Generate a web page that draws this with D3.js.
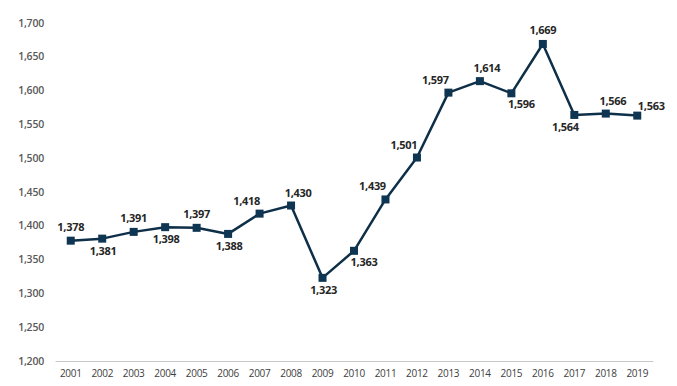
<!DOCTYPE html>
<html><head><meta charset="utf-8">
<script src="https://cdn.jsdelivr.net/npm/d3@7"></script>
<style>body{margin:0;background:#fff}svg{display:block}</style>
</head><body>
<svg id="c" width="677" height="386"></svg>
<script>
const years = ["2001","2002","2003","2004","2005","2006","2007","2008","2009","2010","2011","2012","2013","2014","2015","2016","2017","2018","2019"];
const values = [1378,1381,1391,1398,1397,1388,1418,1430,1323,1363,1439,1501,1597,1614,1596,1669,1564,1566,1563];
const labelPlacement = ["above","below","above","below","above","below","aboveLeft","aboveRight","below","belowRight","aboveLeft","aboveLeft","aboveLeft","aboveRight","belowRight","above","belowLeft","aboveRight","right"];
const yTicks = [1200,1250,1300,1350,1400,1450,1500,1550,1600,1650,1700];

const placementOffsets = {
  above: [0, -14], below: [1, 12], aboveLeft: [-13, -13], aboveRight: [7, -13],
  belowRight: [10, 11], belowLeft: [-9, 12], right: [14, -10]
};

const svg = d3.select("#c");
const x = d3.scaleBand().domain(years).range([55, 653]);
const y = d3.scaleLinear().domain([1200, 1700]).range([361, 23]);
const fmt = d3.format(",");
const cx = d => x(d) + x.bandwidth() / 2;

// y axis labels
svg.append("g").selectAll("text").data(yTicks).join("text")
  .attr("x", 44).attr("y", d => y(d)).attr("dy", "0.35em")
  .attr("text-anchor", "end")
  .attr("font-family", "Open Sans").attr("font-weight", 600).attr("font-size", 10.5)
  .attr("letter-spacing", "-0.2")
  .attr("fill", "#595959").text(d => fmt(d));

// x axis
const xAxis = svg.append("g").attr("transform", `translate(0,${y(1200)})`)
  .call(d3.axisBottom(x).tickSize(0).tickPadding(9));
xAxis.select(".domain").attr("stroke", "#c8c8c8").attr("stroke-width", 1);
xAxis.selectAll("text").attr("font-family", "Open Sans").attr("font-size", 10)
  .attr("letter-spacing", "-0.3").attr("fill", "#404040");

// line
const line = d3.line().x((d, i) => cx(years[i])).y(d => y(d));
svg.append("path").datum(values).attr("d", line)
  .attr("fill", "none").attr("stroke", "#0e2f48").attr("stroke-width", 2.5)
  .attr("stroke-linejoin", "round");

// markers
const ms = 8;
svg.append("g").selectAll("rect").data(values).join("rect")
  .attr("x", (d, i) => cx(years[i]) - ms / 2).attr("y", d => y(d) - ms / 2)
  .attr("width", ms).attr("height", ms).attr("fill", "#0e3552");

// data labels
svg.append("g").selectAll("text").data(values).join("text")
  .attr("x", (d, i) => cx(years[i]) + placementOffsets[labelPlacement[i]][0])
  .attr("y", (d, i) => y(d) + placementOffsets[labelPlacement[i]][1] + 4)
  .attr("text-anchor", "middle")
  .attr("font-family", "Open Sans").attr("font-weight", 700).attr("font-size", 11)
  .attr("letter-spacing", "-0.3")
  .attr("fill", "#262626").text(d => fmt(d));
</script>
</body></html>
